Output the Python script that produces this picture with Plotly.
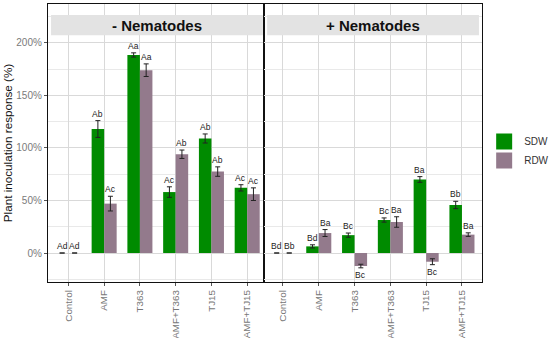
import plotly.graph_objects as go

categories = ["Control", "AMF", "T363", "AMF+T363", "TJ15", "AMF+TJ15"]

# - Nematodes
sdw_minus = [0, 118, 188.5, 58, 109, 62]
sdw_minus_err = [0, 8, 2, 5, 4.3, 3]
sdw_minus_lab = ["Ad", "Ab", "Aa", "Ac", "Ab", "Ac"]
rdw_minus = [0, 47, 174, 94, 77.5, 56]
rdw_minus_err = [0, 7, 6, 4, 4.5, 6]
rdw_minus_lab = ["Ad", "Ac", "Aa", "Ab", "Ab", "Ac"]

# + Nematodes
sdw_plus = [0, 6.3, 17, 31.4, 70, 45.7]
sdw_plus_err = [0, 1.5, 2, 2, 2.7, 3.5]
sdw_plus_lab = ["Bd", "Bd", "Bc", "Bc", "Ba", "Bb"]
rdw_plus = [0, 19, -12.4, 29.5, -8.3, 17.5]
rdw_plus_err = [0, 3.3, 1.7, 5, 2.8, 1.7]
rdw_plus_lab = ["Bb", "Ba", "Bc", "Ba", "Bc", "Ba"]

y_ticks = [0, 50, 100, 150, 200]
y_ticklabels = ["0%", "50%", "100%", "150%", "200%"]

panel_titles = ["- Nematodes", "+ Nematodes"]
series_names = ["SDW", "RDW"]

GREEN = "#008B00"
PURPLE = "#937A8C"
FONT = "Liberation Sans, Arial, sans-serif"

fig = go.Figure()

panels = [
    ("x", "y", sdw_minus, sdw_minus_err, sdw_minus_lab, rdw_minus, rdw_minus_err, rdw_minus_lab),
    ("x2", "y2", sdw_plus, sdw_plus_err, sdw_plus_lab, rdw_plus, rdw_plus_err, rdw_plus_lab),
]

annotations = []
for (xa, ya, sv, se, sl, rv, re, rl) in panels:
    for name, vals, errs, labs, col, og, shift in [
        (series_names[0], sv, se, sl, GREEN, "a", -6.3),
        (series_names[1], rv, re, rl, PURPLE, "b", 6.3),
    ]:
        fig.add_trace(go.Bar(
            x=categories, y=vals, name=name, marker_color=col,
            marker_line_width=0, offsetgroup=og, xaxis=xa, yaxis=ya,
            showlegend=False,
            error_y=dict(type="data", array=errs, color="#222222", thickness=1, width=2.5),
        ))
        for c, v, e, t in zip(categories, vals, errs, labs):
            if v >= 0:
                annotations.append(dict(
                    x=c, y=v + e, xref=xa, yref=ya, text=t, showarrow=False,
                    xshift=shift, yshift=0, xanchor="center", yanchor="bottom",
                    font=dict(size=8.5, color="#222222", family=FONT)))
            else:
                annotations.append(dict(
                    x=c, y=v - e, xref=xa, yref=ya, text=t, showarrow=False,
                    xshift=shift, yshift=0, xanchor="center", yanchor="top",
                    font=dict(size=8.5, color="#222222", family=FONT)))

# legend entries (square keys)
for name, col in zip(series_names, [GREEN, PURPLE]):
    fig.add_trace(go.Scatter(
        x=[None], y=[None], mode="markers", name=name,
        marker=dict(symbol="square", size=17, color=col),
        xaxis="x", yaxis="y", showlegend=True))

# strips
shapes = [
    dict(type="rect", xref="paper", yref="paper", x0=0.007, x1=0.495, y0=0.888, y1=0.960,
         fillcolor="#E3E3E3", line_width=0, layer="above"),
    dict(type="rect", xref="paper", yref="paper", x0=0.505, x1=0.993, y0=0.888, y1=0.960,
         fillcolor="#E3E3E3", line_width=0, layer="above"),
]
annotations.append(dict(x=0.251, y=0.924, xref="paper", yref="paper", text="<b>" + panel_titles[0] + "</b>",
                        showarrow=False, xanchor="center", yanchor="middle",
                        font=dict(size=15, color="#111111", family=FONT)))
annotations.append(dict(x=0.749, y=0.924, xref="paper", yref="paper", text="<b>" + panel_titles[1] + "</b>",
                        showarrow=False, xanchor="center", yanchor="middle",
                        font=dict(size=15, color="#111111", family=FONT)))

xcommon = dict(
    type="category", categoryorder="array", categoryarray=categories,
    showgrid=True, gridcolor="#D9D9D9", gridwidth=1,
    showline=True, linecolor="#111111", linewidth=1.3, mirror=True,
    ticks="outside", ticklen=3, tickcolor="#555555", tickangle=-90,
    tickfont=dict(size=9.8, color="#777777", family=FONT), zeroline=False,
)
ycommon = dict(
    range=[-27.6, 237], tickmode="array", tickvals=y_ticks, ticktext=y_ticklabels,
    showgrid=True, gridcolor="#D9D9D9", gridwidth=1,
    minor=dict(tickmode="array", tickvals=[-25, 25, 75, 125, 175, 225], showgrid=True,
               gridcolor="#E9E9E9", gridwidth=1),
    showline=True, linecolor="#111111", linewidth=1.3, mirror=True,
    zeroline=False,
)

fig.update_layout(
    width=550, height=338,
    margin=dict(l=48, r=68, t=4, b=56, autoexpand=False),
    paper_bgcolor="white", plot_bgcolor="white",
    barmode="group", bargap=0.3, bargroupgap=0,
    font=dict(family=FONT),
    xaxis=dict(domain=[0, 0.4977], range=[-0.57, 5.47], anchor="y", **xcommon),
    xaxis2=dict(domain=[0.4977, 1], range=[-0.53, 5.56], anchor="y2", **xcommon),
    yaxis=dict(anchor="x", ticks="outside", ticklen=3, tickcolor="#555555",
               tickfont=dict(size=10, color="#7A7A7A", family=FONT),
               title=dict(text="Plant inoculation response (%)", font=dict(size=11.7, color="#111111", family=FONT),
                          standoff=1),
               **ycommon),
    yaxis2=dict(anchor="x2", matches="y", showticklabels=False, ticks="", **ycommon),
    legend=dict(x=1.005, y=0.471, xanchor="left", yanchor="middle", itemsizing="trace",
                font=dict(size=10, color="#333333", family=FONT), tracegroupgap=0,
                bgcolor="rgba(0,0,0,0)"),
    shapes=shapes,
    annotations=annotations,
)

fig.write_html("out.html", config={"displayModeBar": False},
               post_script="document.body.style.margin='0px';")
